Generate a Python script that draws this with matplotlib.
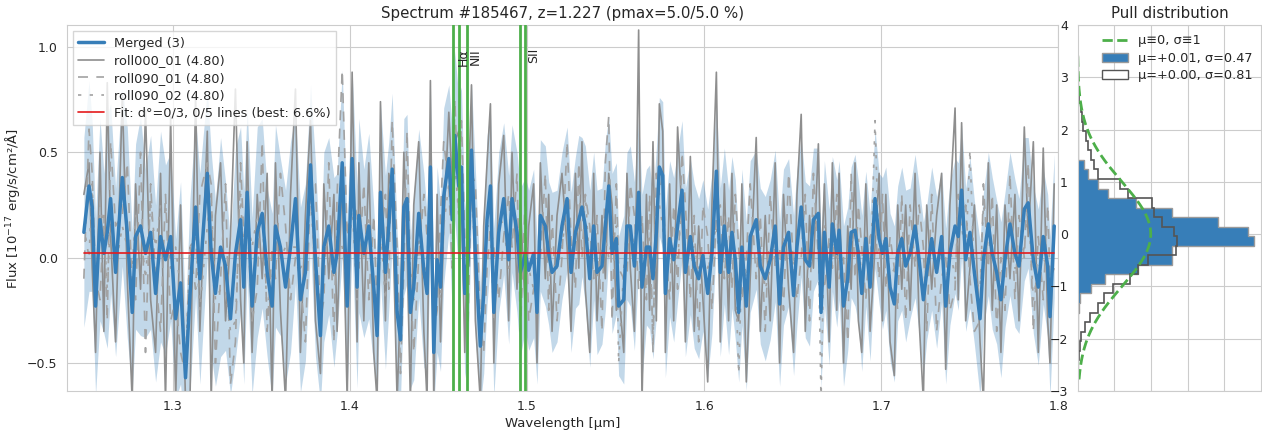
import numpy as np
import matplotlib
matplotlib.use("Agg")
import matplotlib.pyplot as plt
import seaborn as sns
from matplotlib.lines import Line2D
from matplotlib.patches import Patch

sns.set_style("whitegrid")
plt.rcParams['font.family'] = ['DejaVu Sans']
plt.rcParams['text.color'] = '.15'
plt.rcParams['axes.labelcolor'] = '.15'
plt.rcParams['xtick.color'] = '.15'
plt.rcParams['ytick.color'] = '.15'

# ---------------- data ----------------
title = "Spectrum #185467, z=1.227 (pmax=5.0/5.0 %)"
redshift = 1.227
fit_level = 0.02

wave = [
    1.2497, 1.2526, 1.2544, 1.2563, 1.2588, 1.2610, 1.2629, 1.2648, 1.2676, 1.2714,
    1.2742, 1.2770, 1.2789, 1.2817, 1.2845, 1.2874, 1.2902, 1.2930, 1.2958, 1.2987,
    1.3015, 1.3043, 1.3071, 1.3096, 1.3128, 1.3152, 1.3194, 1.3216, 1.3240, 1.3269,
    1.3297, 1.3325, 1.3353, 1.3382, 1.3400, 1.3419, 1.3447, 1.3476, 1.3504, 1.3532,
    1.3560, 1.3579, 1.3607, 1.3636, 1.3664, 1.3692, 1.3720, 1.3748, 1.3777, 1.3805,
    1.3833, 1.3852,
    1.3880, 1.3909, 1.3927, 1.3956, 1.3984, 1.4012, 1.4040, 1.4050, 1.4078, 1.4106,
    1.4134, 1.4153, 1.4172, 1.4200, 1.4219, 1.4238, 1.4266, 1.4285, 1.4304, 1.4322,
    1.4341, 1.4360, 1.4388, 1.4417, 1.4435, 1.4454, 1.4473, 1.4492, 1.4511, 1.4529,
    1.4558, 1.4577, 1.4592, 1.4614, 1.4629, 1.4648, 1.4667, 1.4686, 1.4708, 1.4736,
    1.4755, 1.4774, 1.4793, 1.4812, 1.4840, 1.4868, 1.4896, 1.4915, 1.4943, 1.4962,
    1.4990, 1.5009, 1.5037, 1.5056, 1.5075, 1.5103, 1.5122, 1.5141, 1.5169, 1.5197,
    1.5226, 1.5248, 1.5273, 1.5292, 1.5310, 1.5329, 1.5354, 1.5376, 1.5395, 1.5423,
    1.5442, 1.5461, 1.5480, 1.5504, 1.5517, 1.5546, 1.5564, 1.5583, 1.5606, 1.5630,
    1.5649, 1.5674, 1.5692, 1.5711, 1.5730, 1.5747, 1.5766, 1.5781, 1.5805, 1.5828,
    1.5850, 1.5875, 1.5894, 1.5922, 1.5944, 1.5969, 1.5993, 1.6020, 1.6044, 1.6069,
    1.6091, 1.6114, 1.6138, 1.6157, 1.6176, 1.6195, 1.6213, 1.6238, 1.6260, 1.6294,
    1.6317, 1.6345, 1.6373, 1.6401, 1.6426, 1.6448, 1.6477, 1.6505, 1.6524, 1.6548,
    1.6571, 1.6595,
    1.6617, 1.6645, 1.6660, 1.6679, 1.6706, 1.6724, 1.6749, 1.6762, 1.6787, 1.6811,
    1.6830, 1.6852, 1.6871, 1.6890, 1.6913, 1.6937, 1.6965, 1.6988, 1.7007, 1.7026,
    1.7050, 1.7074, 1.7093, 1.7116, 1.7138, 1.7163, 1.7191, 1.7214, 1.7238, 1.7257,
    1.7285, 1.7313, 1.7341, 1.7364, 1.7388, 1.7417, 1.7435, 1.7454, 1.7477, 1.7501,
    1.7526, 1.7558, 1.7577, 1.7605, 1.7627, 1.7652, 1.7676, 1.7699, 1.7727, 1.7755,
    1.7778, 1.7808, 1.7830, 1.7859, 1.7887, 1.7915, 1.7940, 1.7953, 1.7977,
]

merged = [
    0.12, 0.34, 0.24, -0.23, 0.18, 0.02, 0.12, 0.28, -0.07, 0.38,
    0.12, -0.26, 0.10, 0.15, 0.02, 0.12, -0.17, 0.10, -0.01, 0.10,
    -0.29, -0.12, -0.57, -0.18, 0.24, -0.10, 0.40, 0.02, -0.17, 0.05,
    -0.04, -0.29, 0.02, 0.18, -0.14, 0.31, -0.23, 0.12, 0.21, -0.07,
    -0.23, 0.15, 0.05, -0.14, 0.05, 0.28, -0.20, -0.07, 0.44, -0.01,
    -0.37, 0.05,
    0.15, -0.07, 0.02, 0.45, -0.23, 0.47, -0.14, 0.20, 0.02, 0.15,
    -0.14, -0.37, 0.31, -0.07, 0.15, 0.42, -0.26, -0.39, 0.24, 0.28,
    -0.26, -0.14, 0.21, -0.06, -0.17, 0.43, -0.45, -0.01, -0.14, 0.29,
    0.47, 0.18, 0.58, 0.34, 0.43, -0.17, -0.01, 0.51, 0.02, -0.42,
    -0.17, 0.18, 0.34, -0.26, 0.12, 0.28, -0.01, 0.28, 0.12, -0.07,
    0.02, -0.06, 0.02, -0.26, 0.20, 0.15, 0.02, -0.07, -0.04, 0.15,
    0.28, -0.07, 0.12, 0.18, 0.24, 0.15, -0.10, 0.15, -0.07, -0.04,
    0.15, 0.34, 0.02, 0.09, -0.23, -0.20, 0.15, 0.15, -0.04, 0.31,
    -0.14, 0.05, 0.05, -0.10, 0.12, 0.43, 0.39, -0.17, 0.09, -0.01,
    0.15, 0.32, -0.07, 0.10, -0.04, -0.10, 0.01, -0.17, 0.02, 0.41,
    -0.07, 0.15, -0.07, 0.12, -0.01, -0.26, 0.05, -0.23, 0.10, 0.18,
    -0.04, -0.10, -0.01, 0.15, -0.22, 0.05, 0.12, -0.18, 0.05, 0.24,
    -0.01, -0.04,
    0.18, 0.21, -0.26, 0.12, -0.14, 0.16, 0.02, 0.13, -0.23, -0.10,
    0.12, 0.13, 0.02, -0.17, 0.09, -0.14, 0.28, 0.09, 0.02, 0.09,
    -0.14, -0.22, 0.02, 0.09, -0.04, 0.02, 0.15, -0.01, -0.20, -0.07,
    0.09, -0.07, 0.10, -0.23, 0.02, 0.15, 0.10, 0.32, -0.01, 0.12,
    -0.07, -0.29, -0.01, 0.16, 0.02, -0.07, -0.20, -0.01, 0.16, 0.02,
    -0.04, 0.23, 0.26, -0.01, -0.14, 0.10, -0.04, -0.28, 0.15,
]

merged_err = [
    0.45, 0.50, 0.40, 0.42, 0.48, 0.38, 0.55, 0.45, 0.40, 0.42,
    0.50, 0.38, 0.44, 0.52, 0.40, 0.46, 0.42, 0.50, 0.45, 0.40,
    0.38, 0.48, 0.30, 0.46, 0.42, 0.50, 0.40, 0.48, 0.44, 0.52,
    0.40, 0.36, 0.50, 0.44, 0.46, 0.40, 0.42, 0.50, 0.45, 0.40,
    0.44, 0.48, 0.42, 0.46, 0.50, 0.40, 0.44, 0.42, 0.38, 0.46,
    0.32, 0.45,
    0.42, 0.45, 0.38, 0.44, 0.40, 0.42, 0.48, 0.46, 0.40, 0.44,
    0.38, 0.30, 0.42, 0.46, 0.40, 0.36, 0.38, 0.28, 0.42, 0.40,
    0.36, 0.44, 0.40, 0.46, 0.38, 0.40, 0.25, 0.44, 0.40, 0.42,
    0.35, 0.44, 0.40, 0.42, 0.38, 0.40, 0.44, 0.32, 0.40, 0.28,
    0.38, 0.40, 0.36, 0.40, 0.38, 0.36, 0.40, 0.35, 0.38, 0.40,
    0.36, 0.38, 0.40, 0.34, 0.36, 0.38, 0.34, 0.38, 0.36, 0.35,
    0.34, 0.38, 0.36, 0.40, 0.33, 0.38, 0.42, 0.35, 0.39, 0.37,
    0.40, 0.33, 0.38, 0.36, 0.33, 0.40, 0.35, 0.38, 0.40, 0.36,
    0.44, 0.37, 0.39, 0.38, 0.40, 0.33, 0.35, 0.40, 0.37, 0.39,
    0.36, 0.33, 0.40, 0.37, 0.39, 0.38, 0.36, 0.40, 0.38, 0.33,
    0.40, 0.37, 0.39, 0.36, 0.38, 0.33, 0.37, 0.40, 0.36, 0.33,
    0.37, 0.39, 0.38, 0.36, 0.39, 0.37, 0.35, 0.38, 0.37, 0.33,
    0.37, 0.38,
    0.34, 0.31, 0.36, 0.34, 0.37, 0.32, 0.35, 0.33, 0.38, 0.34,
    0.31, 0.36, 0.34, 0.37, 0.32, 0.35, 0.33, 0.31, 0.36, 0.34,
    0.35, 0.37, 0.32, 0.34, 0.36, 0.31, 0.34, 0.35, 0.37, 0.32,
    0.34, 0.36, 0.31, 0.37, 0.34, 0.32, 0.35, 0.31, 0.34, 0.36,
    0.34, 0.37, 0.32, 0.34, 0.36, 0.34, 0.37, 0.32, 0.34, 0.35,
    0.32, 0.34, 0.31, 0.35, 0.37, 0.32, 0.34, 0.38, 0.34,
]

roll000_01 = [
    0.30, 0.45, -0.05, -0.45, 0.50, -0.35, 0.83, 0.10, -0.40, 0.77,
    -0.10, -0.68, 0.35, -0.15, 0.70, -0.20, -0.45, 0.40, -0.68, 0.67,
    -0.68, 0.25, -0.68, -0.68, 0.77, -0.35, 0.60, -0.68, 0.20, 0.45,
    -0.30, 0.10, 0.80, -0.20, -0.50, 0.55, -0.45, 0.30, -0.10, 0.40,
    -0.68, 0.45, -0.25, -0.68, 0.30, 0.80, -0.45, 0.20, 0.65, -0.30,
    -0.55, 0.35,
    -0.10, 0.30, -0.35, 0.40, -0.68, 0.88, -0.40, 0.45, -0.30, 0.45,
    -0.45, -0.68, 0.74, -0.30, 0.40, 0.30, -0.68, -0.20, 0.50, 0.05,
    -0.68, 0.25, 0.55, -0.35, -0.68, 0.84, -0.68, 0.30, -0.40, 0.15,
    0.69, 0.35, 0.55, 0.60, 0.30, -0.45, 0.25, 0.82, -0.30, -0.68,
    0.15, 0.45, 0.73, -0.50, 0.35, 0.58, -0.30, 0.50, -0.15, 0.25,
    -0.25, 0.15, 0.35, -0.50, 0.45, -0.10, 0.30, -0.35, 0.20, 0.40,
    0.05, -0.35, 0.40, -0.05, 0.55, -0.15, -0.45, 0.40, -0.30, 0.20,
    -0.10, 0.40, 0.25, -0.25, -0.15, -0.45, 0.40, -0.05, -0.35, 1.08,
    -0.68, 0.30, -0.25, 0.55, -0.30, 0.73, 0.60, -0.45, 0.35, -0.30,
    0.62, 0.20, -0.40, 0.48, -0.35, 0.15, -0.20, -0.59, 0.25, 0.88,
    -0.40, 0.35, -0.30, 0.40, -0.25, -0.30, 0.35, -0.59, -0.10, 0.57,
    -0.35, 0.20, -0.30, 0.45, -0.50, 0.30, -0.15, -0.45, 0.30, 0.68,
    -0.35, 0.20,
    -0.05, 0.54, -0.10, 0.35, -0.40, 0.45, -0.25, 0.40, -0.50, 0.15,
    -0.15, 0.45, -0.30, -0.45, 0.35, -0.35, 0.05, 0.40, -0.30, 0.30,
    -0.40, -0.56, 0.25, -0.15, 0.25, -0.25, 0.40, -0.30, -0.68, 0.25,
    -0.15, 0.20, 0.40, -0.53, 0.25, 0.71, -0.20, 0.64, -0.30, -0.05,
    0.25, -0.40, -0.68, 0.45, -0.25, 0.25, -0.45, 0.25, -0.10, 0.30,
    -0.30, 0.62, 0.10, 0.55, -0.45, 0.52, -0.30, -0.50, 0.35,
]

roll090_01 = [
    -0.10, 0.61, 0.40, -0.10, -0.20, 0.20, -0.30, 0.55, 0.15, 0.20,
    0.45, -0.15, -0.20, 0.50, -0.45, 0.35, -0.10, -0.35, 0.30, -0.30,
    -0.20, -0.45, -0.55, 0.05, -0.15, 0.30, 0.45, 0.35, -0.50, -0.10,
    0.35, -0.60, -0.40, 0.45, 0.10, 0.20, -0.30, -0.15, 0.55, -0.35,
    0.05, -0.10, 0.40, 0.15, -0.20, 0.00, -0.10, -0.40, 0.35, 0.35,
    -0.30, -0.20,
    0.45, -0.40, 0.30, 0.89, 0.10, 0.30, 0.20, -0.05, 0.35, -0.20,
    0.20, -0.25, 0.05, 0.30, -0.15, 0.65, 0.05, -0.55, -0.05, 0.60,
    -0.10, -0.45, 0.00, 0.30, 0.10, 0.20, -0.35, -0.25, 0.20, 0.55,
    0.35, -0.05, 0.75, 0.20, 0.65, 0.10, -0.30, 0.40, 0.35, -0.30,
    -0.45, -0.05, 0.15, 0.05, -0.20, 0.10, 0.30, 0.05, 0.40, -0.35,
    0.30, -0.30, -0.15, -0.10, 0.00, 0.40, -0.25, 0.20, -0.30, 0.00,
    0.55, 0.10, -0.15, 0.45, 0.00, 0.30, 0.15, -0.10, 0.20, -0.35,
    0.45, 0.67, -0.30, 0.35, -0.05, -0.10, -0.10, 0.35, 0.20, -0.15,
    0.20, -0.20, 0.30, -0.45, 0.40, 0.30, 0.40, 0.05, -0.20, 0.25,
    -0.15, 0.50, 0.25, -0.20, 0.20, -0.40, 0.25, 0.10, -0.25, 0.20,
    0.25, -0.10, 0.20, -0.15, 0.30, 0.05, -0.20, 0.00, 0.35, -0.10,
    0.20, -0.35, 0.30, -0.05, 0.05, -0.25, 0.40, -0.05, -0.20, 0.00,
    0.30, -0.30,
    0.40, 0.00, -0.05, -0.15, 0.10, -0.05, 0.30, -0.10, 0.00, -0.40,
    0.40, -0.10, 0.25, 0.05, -0.20, 0.10, 0.15, -0.10, 0.30, -0.15,
    0.10, -0.05, -0.25, 0.30, -0.30, 0.25, -0.05, 0.25, 0.05, -0.35,
    0.30, -0.35, -0.10, 0.00, -0.25, -0.15, 0.30, 0.15, 0.25, -0.10,
    -0.35, -0.30, 0.35, -0.05, 0.30, -0.35, 0.00, -0.25, 0.40, -0.20,
    0.20, 0.00, 0.45, -0.35, 0.10, -0.20, 0.25, -0.10, -0.05,
]

roll090_02 = [
    0.15, 0.00, 0.35, -0.20, 0.25, 0.15, -0.15, 0.20, -0.05, 0.15,
    0.05, -0.05, 0.20, 0.15, -0.10, 0.25, 0.05, 0.25, 0.25, -0.05,
    0.05, -0.15, -0.50, 0.05, 0.10, -0.25, 0.15, 0.30, -0.20, -0.15,
    -0.15, -0.35, -0.30, 0.30, -0.05, 0.20, 0.05, 0.20, 0.20, -0.25,
    -0.10, 0.10, 0.00, 0.05, 0.05, 0.05, -0.05, 0.00, 0.30, -0.10,
    -0.25, 0.00,
    0.10, -0.10, 0.10, 0.05, -0.15, 0.25, -0.20, 0.20, 0.00, 0.20,
    -0.15, -0.20, 0.15, -0.20, 0.20, 0.30, -0.20, -0.40, 0.25, 0.20,
    -0.05, -0.20, 0.10, -0.10, 0.00, 0.25, -0.40, -0.05, -0.20, 0.15,
    0.35, 0.25, 0.45, 0.20, 0.35, -0.15, 0.05, 0.30, 0.00, -0.35,
    -0.20, 0.15, 0.15, -0.30, 0.20, 0.15, -0.05, 0.30, 0.10, -0.10,
    0.00, -0.05, -0.15, -0.20, 0.15, 0.15, 0.00, -0.05, -0.05, 0.05,
    0.25, 0.05, 0.10, 0.15, 0.15, 0.30, -0.05, 0.15, -0.10, 0.05,
    0.10, 0.00, 0.10, 0.15, -0.50, -0.05, 0.15, 0.15, 0.05, 0.00,
    0.00, 0.05, 0.10, -0.40, 0.25, 0.25, 0.15, -0.10, 0.10, 0.00,
    0.00, 0.25, -0.05, 0.05, 0.05, -0.05, 0.00, -0.05, 0.05, 0.15,
    -0.05, 0.20, -0.10, 0.10, -0.05, -0.55, 0.00, -0.10, 0.05, 0.05,
    0.05, -0.15, -0.05, 0.05, -0.20, 0.10, 0.10, -0.05, 0.05, 0.05,
    0.00, -0.05,
    0.20, 0.10, -0.68, 0.15, -0.10, 0.10, 0.00, 0.10, -0.20, -0.05,
    0.10, 0.05, 0.10, -0.10, 0.10, -0.15, 0.65, 0.00, 0.05, 0.10,
    -0.10, -0.05, 0.05, 0.10, -0.05, 0.05, 0.10, 0.00, 0.00, -0.10,
    0.10, -0.05, 0.00, -0.15, 0.05, -0.10, 0.20, 0.15, 0.00, 0.51,
    -0.10, -0.15, 0.25, 0.10, 0.00, -0.10, -0.15, -0.05, 0.20, -0.05,
    -0.05, 0.05, 0.25, -0.20, -0.05, 0.00, -0.05, -0.25, 0.15,
]

# emission lines (rest wavelength in micron)
line_rest = [0.654805, 0.656280, 0.658345, 0.671644, 0.673082]
label_names = ["Hα", "NII", "SII"]
label_rest = [0.656280, 0.658345, 0.673082]

# pull distribution histograms (density per bin)
pull_edges = np.linspace(-2.7775, 3.4275, 35)
pull_merged = [0, 0, 0, 0, 0, 0, 0,
               0.008, 0.015, 0.076, 0.149, 0.331, 0.513, 0.513, 0.964, 0.927,
               0.767, 0.513, 0.316, 0.164, 0.109, 0.058, 0.035,
               0, 0, 0, 0, 0, 0, 0, 0, 0, 0, 0]
pull_single = [0, 0.004, 0.009, 0.013, 0.018, 0.040, 0.067, 0.109, 0.145, 0.195,
               0.285, 0.331, 0.382, 0.535, 0.540, 0.525, 0.462, 0.416, 0.407, 0.276,
               0.231, 0.109, 0.090, 0.073, 0.059, 0.044, 0.031, 0.026, 0.018, 0.009,
               0.004, 0.003, 0, 0]
pull_labels = ["μ≡0, σ≡1", "μ=+0.01, σ=0.47", "μ=+0.00, σ=0.81"]

# ---------------- plot ----------------
n = min(len(wave), len(merged), len(merged_err), len(roll000_01), len(roll090_01), len(roll090_02))
w = np.array(wave[:n])
m = np.array(merged[:n])
e = np.array(merged_err[:n])
r1 = np.array(roll000_01[:n])
r2 = np.array(roll090_01[:n])
r3 = np.array(roll090_02[:n])

BLUE = '#377eb8'
RED = '#e41a1c'
GREEN = '#4daf4a'

W, H = 1262, 437
fig = plt.figure(figsize=(W / 100, H / 100), dpi=100)
ax = fig.add_axes([66.7 / W, 1 - 391 / H, (1058.3 - 66.7) / W, (391 - 25) / H])

ax.fill_between(w, m - e, m + e, color=BLUE, alpha=0.3, lw=0, zorder=1)
l1, = ax.plot(w, r1, color='#8e8e8e', lw=1.2, zorder=2)
l2, = ax.plot(w, r2, color='#a2a2a2', lw=1.2, ls=(0, (6, 5)), zorder=2)
l3, = ax.plot(w, r3, color='#a2a2a2', lw=1.2, ls=(0, (2, 5)), zorder=2)
lm, = ax.plot(w, m, color=BLUE, lw=2.5, zorder=3)
lf, = ax.plot(w, np.full_like(w, fit_level), color=RED, lw=1.2, zorder=6)

for lr in line_rest:
    ax.axvline(lr * (1 + redshift), color=GREEN, lw=2, zorder=5)
label_ha = ['center', 'left', 'left']
label_dx = [0.0023, 0.0009, 0.0009]
for name, lr, ha, dx in zip(label_names, label_rest, label_ha, label_dx):
    ax.text(lr * (1 + redshift) + dx, 0.995, name, rotation=90, va='top', ha=ha,
            fontsize=9, color='.15', zorder=7)

ax.set_xlim(1.24, 1.80)
ax.set_ylim(-0.633, 1.104)
ax.set_xticks([1.3, 1.4, 1.5, 1.6, 1.7, 1.8])
ax.set_yticks([-0.5, 0.0, 0.5, 1.0])
ax.tick_params(labelsize=9, pad=3)
ax.set_xlabel("Wavelength [µm]", fontsize=9.5, labelpad=3)
ax.set_ylabel("Flux [10$^{-17}$ erg/s/cm²/Å]", fontsize=9.5, labelpad=4)
ax.set_title(title, fontsize=10.8, pad=5)

leg = ax.legend([lm, l1, l2, l3, lf],
                ["Merged (3)", "roll000_01 (4.80)", "roll090_01 (4.80)",
                 "roll090_02 (4.80)", "Fit: d°=0/3, 0/5 lines (best: 6.6%)"],
                loc='upper left', fontsize=9.3, frameon=True, framealpha=0.8,
                edgecolor='.8', fancybox=False, labelspacing=0.35,
                borderaxespad=0.5)
leg.set_zorder(10)

# pull panel
axp = fig.add_axes([1077.5 / W, 1 - 391 / H, (W - 1077.5) / W, (391 - 25) / H])
axp.stairs(pull_merged, pull_edges, orientation='horizontal', fill=True,
           facecolor=BLUE, edgecolor='#9a9a9a', lw=1)
axp.stairs(pull_single, pull_edges, orientation='horizontal', fill=False,
           edgecolor='#555555', lw=1.2)
yy = np.linspace(pull_edges[0], pull_edges[-1], 300)
axp.plot(np.exp(-0.5 * yy ** 2) / np.sqrt(2 * np.pi), yy, ls='--', color=GREEN, lw=2)
axp.set_ylim(-3, 4)
axp.set_xlim(0, 1.005)
axp.set_xticks([0.2, 0.4, 0.6, 0.8, 1.0])
axp.set_yticks(range(-3, 5))
axp.set_xticklabels([])
axp.tick_params(axis='x', length=0)
axp.tick_params(axis='y', length=0, pad=7, labelsize=9)
axp.set_title("Pull distribution", fontsize=10.8, pad=5)
handles = [Line2D([], [], ls='--', color=GREEN, lw=2),
           Patch(facecolor=BLUE, edgecolor='#9a9a9a'),
           Patch(facecolor='white', edgecolor='#555555')]
axp.legend(handles, pull_labels, loc='upper right', fontsize=9.3, frameon=False,
           labelspacing=0.35, borderaxespad=0.3, handletextpad=0.8)

fig.savefig("out.png", dpi=100)
